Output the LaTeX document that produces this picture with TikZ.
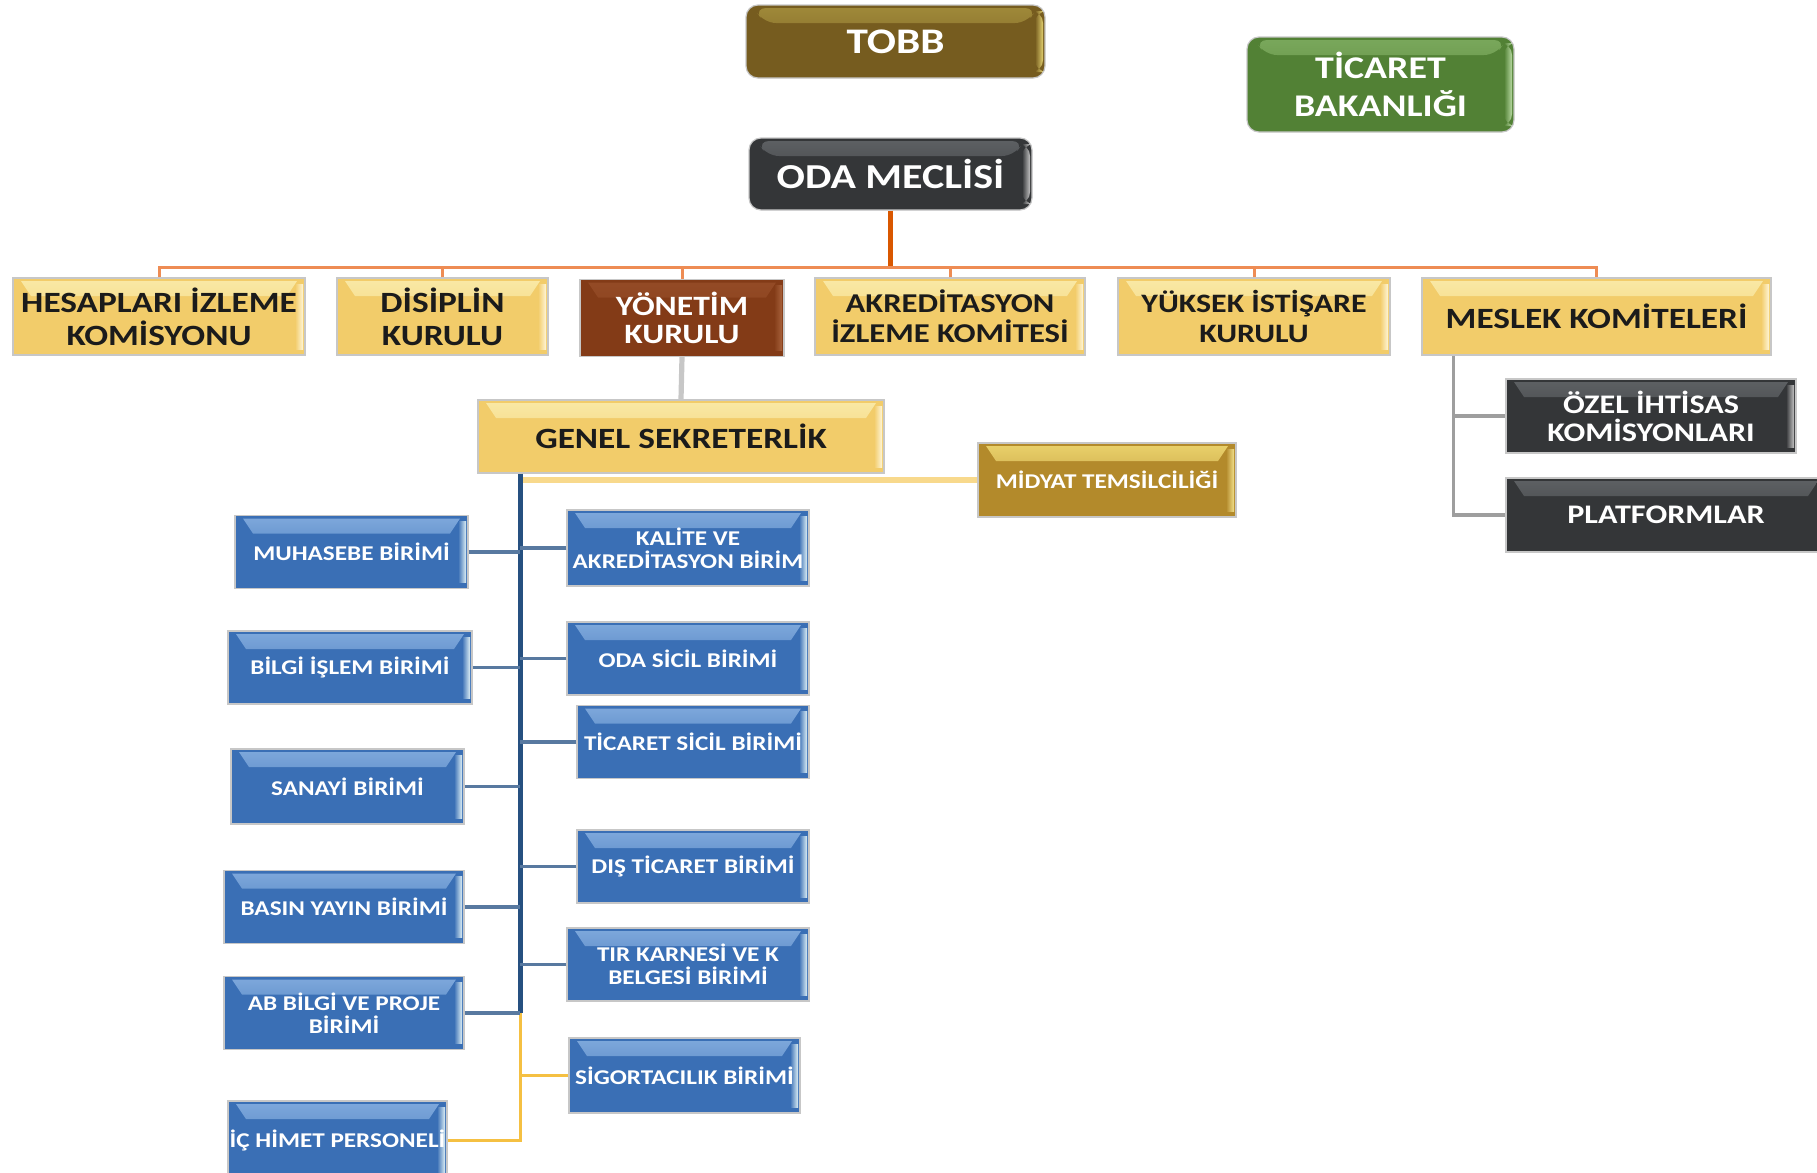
\documentclass[tikz,border=0pt]{standalone}
\usepackage{fontspec}
\setmainfont{Carlito}[FakeStretch=1.2]
\definecolor{tobbC}{HTML}{765C1F}
\definecolor{tobbL}{HTML}{A08A3A}
\definecolor{tobbE}{HTML}{E3D16F}
\definecolor{ticC}{HTML}{528135}
\definecolor{ticL}{HTML}{7AA85C}
\definecolor{ticE}{HTML}{B8D9A2}
\definecolor{drkC}{HTML}{343638}
\definecolor{drkL}{HTML}{5E6164}
\definecolor{drkE}{HTML}{C4C4C4}
\definecolor{yelC}{HTML}{F2CC6A}
\definecolor{yelL}{HTML}{F9E9A6}
\definecolor{yelE}{HTML}{FFF6D8}
\definecolor{yonC}{HTML}{833B17}
\definecolor{yonL}{HTML}{944B26}
\definecolor{yonE}{HTML}{A8623C}
\definecolor{bluC}{HTML}{3A6FB5}
\definecolor{bluL}{HTML}{7FA9DC}
\definecolor{bluE}{HTML}{DDEFF5}
\definecolor{midC}{HTML}{B38A2B}
\definecolor{midL}{HTML}{EAD26C}
\definecolor{midE}{HTML}{F2E08A}
\definecolor{txtD}{HTML}{1B1B1B}
\tikzset{
  bevel/.style n args={3}{fill=#1, path picture={
    \shade[top color=#2, bottom color=#1]
      ([xshift=4pt,yshift=-1.5pt]path picture bounding box.north west) --
      ([xshift=-4pt,yshift=-1.5pt]path picture bounding box.north east) --
      ([xshift=-9pt,yshift=-9pt]path picture bounding box.north east) --
      ([xshift=9pt,yshift=-9pt]path picture bounding box.north west) -- cycle;
    \shade[left color=#1, right color=#3]
      ([xshift=-5pt,yshift=-3pt]path picture bounding box.north east) rectangle
      ([xshift=-1pt,yshift=3pt]path picture bounding box.south east);
  }},
  box/.style={inner sep=0pt, align=center, draw=black!22, line width=0.6pt},
  tobbbox/.style={box, bevel={tobbC}{tobbL}{tobbE}, rounded corners=6pt, text=white},
  ticbox/.style={box, bevel={ticC}{ticL}{ticE}, rounded corners=6pt, text=white},
  odabox/.style={box, bevel={drkC}{drkL}{drkE}, rounded corners=6pt, text=white},
  yelbox/.style={box, bevel={yelC}{yelL}{yelE}, text=txtD},
  yonbox/.style={box, bevel={yonC}{yonL}{yonE}, text=white},
  blubox/.style={box, bevel={bluC}{bluL}{bluE}, text=white,
     font=\fontsize{10.5}{11.5}\selectfont\bfseries, minimum height=36.5pt},
  drkbox/.style={box, bevel={drkC}{drkL}{drkE}, text=white,
     font=\fontsize{13.4}{14}\selectfont\bfseries, minimum height=37pt},
  midbox/.style={box, bevel={midC}{midL}{midE}, text=white,
     font=\fontsize{10.5}{12}\selectfont\bfseries},
  rowfont/.style={font=\fontsize{14.7}{16.5}\selectfont\bfseries, minimum height=38.5pt},
  orgA/.style={draw=orange!80!red!85!black, line width=2.2pt},
  orgB/.style={draw={rgb,255:red,238;green,140;blue,84}, line width=1.5pt},
  grayA/.style={draw=black!22, line width=2.6pt},
  grayB/.style={draw=black!38, line width=1.8pt},
  yelA/.style={draw={rgb,255:red,245;green,192;blue,66}, line width=1.6pt},
  yelB/.style={draw={rgb,255:red,248;green,217;blue,140}, line width=2.6pt},
  bluA/.style={draw={rgb,255:red,38;green,80;blue,128}, line width=2.2pt},
  bluB/.style={draw={rgb,255:red,88;green,121;blue,160}, line width=1.6pt},
}
\begin{document}
\begin{tikzpicture}[x=0.5pt,y=-0.5pt]
\useasboundingbox (0,0) rectangle (1817,1173);
\clip (0,0) rectangle (1817,1173);
% top
\node[tobbbox, minimum width=149.5pt, minimum height=36.5pt, font=\fontsize{18}{19}\selectfont\bfseries] (tobb) at (895.5,41.5) {TOBB};
\node[ticbox, minimum width=133.5pt, minimum height=47.5pt, font=\fontsize{15.8}{19}\selectfont\bfseries] (tic) at (1380.5,84.5) {TİCARET\\BAKANLIĞI};
\node[odabox, minimum width=141.5pt, minimum height=36pt, font=\fontsize{17.5}{19}\selectfont\bfseries] (oda) at (890.5,174) {ODA MECLİSİ};
% row
\node[yelbox, rowfont, minimum width=146pt] (hes) at (159,316.5) {HESAPLARI İZLEME\\KOMİSYONU};
\node[yelbox, rowfont, minimum width=105.5pt] (dsp) at (442.5,316.5) {DİSİPLİN\\KURULU};
\node[yonbox, rowfont, minimum width=102pt, font=\fontsize{14}{14}\selectfont\bfseries] (yon) at (682,318) {YÖNETİM\\KURULU};
\node[yelbox, rowfont, minimum width=135pt, font=\fontsize{13.6}{15}\selectfont\bfseries] (akr) at (950,316.5) {AKREDİTASYON\\İZLEME KOMİTESİ};
\node[yelbox, rowfont, minimum width=136pt, font=\fontsize{13.3}{15}\selectfont\bfseries] (yuk) at (1254,316.5) {YÜKSEK İSTİŞARE\\KURULU};
\node[yelbox, rowfont, minimum width=174.5pt] (mes) at (1596.5,316.5) {MESLEK KOMİTELERİ};
% genel
\node[yelbox, minimum width=203pt, minimum height=36.5pt, font=\fontsize{14.7}{16}\selectfont\bfseries] (gen) at (681,436.5) {GENEL SEKRETERLİK};
\node[midbox, minimum width=129pt, minimum height=37pt] (mid) at (1107,480) {MİDYAT TEMSİLCİLİĞİ};
\node[drkbox, minimum width=145pt] (oze) at (1651,416) {ÖZEL İHTİSAS\\KOMİSYONLARI};
\node[drkbox, minimum width=160pt] (pla) at (1666,515) {PLATFORMLAR};
% left units
\node[blubox, minimum width=116.5pt] (muh) at (351.5,552) {MUHASEBE BİRİMİ};
\node[blubox, minimum width=122pt] (bil) at (350,667.5) {BİLGİ İŞLEM BİRİMİ};
\node[blubox, minimum width=116.5pt, minimum height=37.5pt] (san) at (347.5,786.5) {SANAYİ BİRİMİ};
\node[blubox, minimum width=120pt] (bas) at (344,907) {BASIN YAYIN BİRİMİ};
\node[blubox, minimum width=120pt] (ab) at (344,1013) {AB BİLGİ VE PROJE\\BİRİMİ};
\node[blubox, minimum width=109.5pt, minimum height=39.5pt] (ich) at (337.5,1140.5) {İÇ HİMET PERSONELİ};
% right units
\node[blubox, minimum width=121pt, minimum height=38pt] (kal) at (688,548) {KALİTE VE\\AKREDİTASYON BİRİM};
\node[blubox, minimum width=121pt] (ods) at (688,658.5) {ODA SİCİL BİRİMİ};
\node[blubox, minimum width=116pt] (tis) at (693,742) {TİCARET SİCİL BİRİMİ};
\node[blubox, minimum width=116pt] (dst) at (693,866.5) {DIŞ TİCARET BİRİMİ};
\node[blubox, minimum width=121pt] (tir) at (688,964.5) {TIR KARNESİ VE K\\BELGESİ BİRİMİ};
\node[blubox, minimum width=115.5pt, minimum height=37.5pt] (sig) at (684.5,1075.5) {SİGORTACILIK BİRİMİ};
% connectors
\coordinate (bus) at (893,267);
\draw[orgA] (oda.south) -- (oda.south |- bus);
\draw[orgB] (hes.north) -- (hes.north |- bus) -- (mes.north |- bus) -- (mes.north);
\foreach \n in {dsp,akr,yuk} \draw[orgB] (\n.north) -- (\n.north |- bus);
\draw[orgB] (yon.north) -- (yon.north |- bus);
\draw[grayA] (yon.south) -- (gen.north);
\coordinate (sp) at ([xshift=21.5pt]gen.south west);
\draw[yelA] (sp) -- (sp |- ich.east) -- (ich.east);
\draw[yelA] (sig.west) -- (sig.west -| sp);
\draw[yelB] (mid.west) -- (mid.west -| sp);
\draw[bluA] (sp) -- (sp |- ab.east);
\foreach \n in {muh,bil,san,bas,ab} \draw[bluB] (\n.east) -- (\n.east -| sp);
\foreach \n in {kal,ods,tis,dst,tir} \draw[bluB] (\n.west) -- (\n.west -| sp);
\coordinate (mb) at ([xshift=16pt]mes.south west);
\draw[grayB] (mb) |- (pla.west);
\draw[grayB] (mb |- oze.west) -- (oze.west);
\end{tikzpicture}
\end{document}
